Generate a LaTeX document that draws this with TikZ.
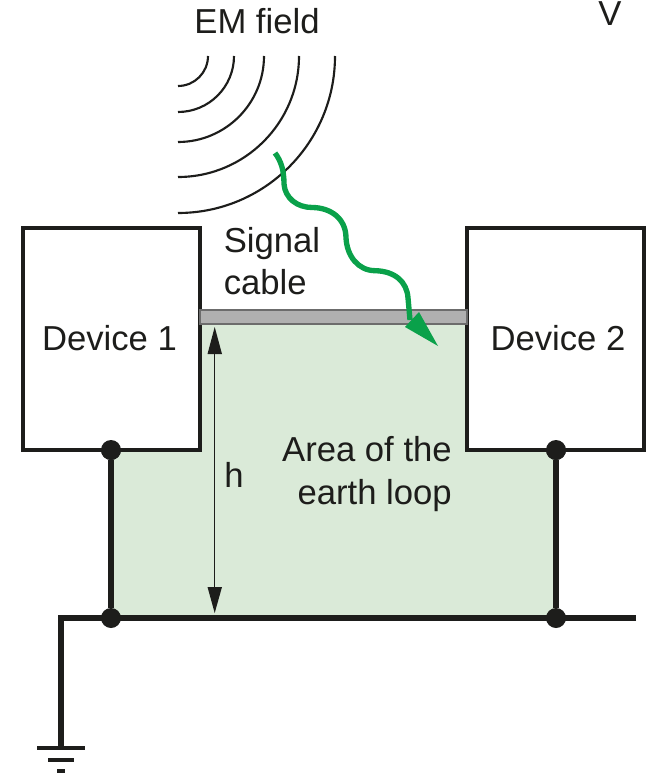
\documentclass[tikz,border=0pt]{standalone}
\usepackage{fontspec}
\setmainfont{Liberation Sans}
\definecolor{ink}{HTML}{1D1D1B}
\definecolor{loopgreen}{HTML}{DAEAD8}
\definecolor{wavegreen}{HTML}{0AA14A}
\definecolor{cablegray}{HTML}{B0B0B0}
\tikzset{
  device/.style={draw=ink,line width=2.6pt,fill=white,minimum width=132.5pt,minimum height=166.5pt,inner sep=0pt},
  lbl/.style={inner sep=0pt,font=\fontsize{26pt}{32pt}\selectfont,text=ink,align=center},
  wire/.style={draw=ink,line width=3.8pt},
  junction/.style={circle,fill=ink,minimum size=15pt,inner sep=0pt},
  wavefront/.style={draw=ink,line width=1.6pt},
  gbar/.style={fill=ink,draw=none},
  dimline/.style={draw=ink,line width=1pt},
  dimhead/.style={fill=ink,draw=none},
}
\begin{document}
\begin{tikzpicture}[x=0.75pt,y=-0.75pt]
\useasboundingbox (0,0) rectangle (647,781);
% loop area
\fill[loopgreen] (200,324) -- (467,324) -- (467,450) -- (556,450) -- (556,618) -- (111,618) -- (111,450) -- (200,450) -- cycle;
% wires behind
\node[junction] (j1) at (111,450) {};
\node[junction] (j2) at (111,618) {};
\node[junction] (j3) at (556,450) {};
\node[junction] (j4) at (556,618) {};
\coordinate (wireR) at (636,618);
\coordinate (corner) at (61,618);
\coordinate (gnd) at (61,748);
\draw[wire] (j1) -- (j2);
\draw[wire] (j3) -- (j4);
\draw[wire] (wireR) -- (corner) -- (gnd);
% ground
\fill[gbar] (37,745.6) rectangle (85,750.4);
\fill[gbar] (48,757.6) rectangle (74,762.4);
\fill[gbar] (57,768.5) rectangle (65,773);
% devices
\node[device] (d1) at (111.5,339) {};
\node[device] (d2) at (555.5,339) {};
\node[lbl] (d1t) at (109.5,338) {Device 1};
\node[lbl] (d2t) at (558,338) {Device 2};
% cable
\draw[draw=gray!85!black,line width=0.8pt,fill=cablegray] (200,310) rectangle (467,324);
% redraw junctions above boxes
\node[junction] at (j1) {};
\node[junction] at (j3) {};
% arcs
\foreach \r in {30,56,86,121,157}{
  \draw[wavefront] (178+\r,56) .. controls (178+\r,56+0.5523*\r) and (178+0.5523*\r,56+\r) .. (178,56+\r);
}
% h dimension
\coordinate (hT) at (214.7,327);
\coordinate (hB) at (214.7,613);
\draw[dimline] (214.7,350) -- (214.7,590);
\fill[dimhead] (hT) -- (222,354) -- (207.5,354) -- cycle;
\fill[dimhead] (hB) -- (222,587) -- (207.5,587) -- cycle;
% green wave
\draw[draw=wavegreen,line width=4pt] (275,153) .. controls (281,161) and (284,170) .. (284,184)
  .. controls (285,198) and (297,207.5) .. (312,207.5)
  .. controls (330,207.5) and (346,218) .. (346,238)
  .. controls (347,256) and (358,270.5) .. (375,270.7)
  .. controls (395,271) and (407,282) .. (408,298)
  -- (410,320);
\fill[wavegreen] (419,312) -- (438,346) -- (405,327) -- cycle;
% texts
\node[lbl] (em) at (257,21) {EM field};
\node[lbl] (v) at (610,14) {V};
\node[lbl,align=left,anchor=west] (sig) at (223.5,261) {Signal\\cable};
\node[lbl,align=right,anchor=east] (area) at (452,474) {Area of the\\earth loop};
\node[lbl] (h) at (234,475) {h};
\end{tikzpicture}
\end{document}
